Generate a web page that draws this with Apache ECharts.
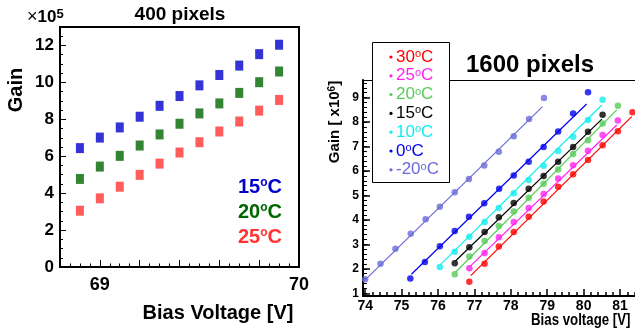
<!DOCTYPE html>
<html><head><meta charset="utf-8">
<script src="https://cdn.jsdelivr.net/npm/echarts@6/dist/echarts.min.js"></script>
<style>html,body{margin:0;padding:0;background:#fff}#c{width:635px;height:331px}</style>
</head><body><div id="c"></div>
<script>
// ---------- Left chart: 400 pixels ----------
const leftVoltage = [68.9, 69.0, 69.1, 69.2, 69.3, 69.4, 69.5, 69.6, 69.7, 69.8, 69.9];
const leftGain15 = [6.44, 7.01, 7.56, 8.14, 8.73, 9.26, 9.84, 10.40, 10.91, 11.53, 12.04];
const leftGain20 = [4.77, 5.44, 6.02, 6.58, 7.18, 7.76, 8.32, 8.86, 9.43, 10.01, 10.59];
const leftGain25 = [3.05, 3.72, 4.35, 4.99, 5.60, 6.20, 6.76, 7.34, 7.88, 8.47, 9.05];
const leftTemps = ['15', '20', '25'];
const leftXTickLabels = [69, 70];
const leftYTickLabels = [0, 2, 4, 6, 8, 10, 12];

// ---------- Right chart: 1600 pixels ----------
const rightTemps = ['30', '25', '20', '15', '10', '0', '-20'];
const v30 = [76.86, 77.28, 77.67, 78.08, 78.49, 78.9, 79.3, 79.71, 80.12, 80.52, 80.94, 81.34];
const g30 = [1.47, 2.21, 2.91, 3.51, 4.13, 4.75, 5.36, 5.87, 6.45, 7.05, 7.63, 8.40];
const v25 = [76.86, 77.28, 77.67, 78.08, 78.49, 78.9, 79.3, 79.71, 80.12, 80.52, 80.94];
const g25 = [2.02, 2.65, 3.29, 3.92, 4.49, 5.06, 5.69, 6.24, 6.83, 7.47, 8.06];
const v20 = [76.46, 76.86, 77.28, 77.67, 78.08, 78.49, 78.9, 79.3, 79.71, 80.12, 80.52, 80.94];
const g20 = [1.78, 2.50, 3.14, 3.75, 4.34, 4.91, 5.48, 6.06, 6.70, 7.26, 7.94, 8.67];
const v15 = [76.46, 76.86, 77.28, 77.67, 78.08, 78.49, 78.9, 79.3, 79.71, 80.12, 80.52];
const g15 = [2.23, 2.88, 3.51, 4.11, 4.69, 5.27, 5.80, 6.38, 6.98, 7.60, 8.30];
const v10 = [76.05, 76.46, 76.86, 77.28, 77.67, 78.08, 78.49, 78.9, 79.3, 79.71, 80.12, 80.52];
const g10 = [2.08, 2.70, 3.31, 3.92, 4.49, 5.09, 5.63, 6.21, 6.82, 7.40, 8.08, 8.91];
const v0 = [75.24, 75.64, 76.05, 76.46, 76.85, 77.27, 77.68, 78.08, 78.49, 78.9, 79.3, 79.71, 80.12];
const g0 = [1.61, 2.28, 2.92, 3.55, 4.13, 4.68, 5.27, 5.82, 6.38, 6.98, 7.61, 8.35, 9.22];
const vm20 = [74.0, 74.42, 74.83, 75.25, 75.66, 76.05, 76.46, 76.85, 77.27, 77.67, 78.08, 78.5, 78.91];
const gm20 = [1.57, 2.21, 2.82, 3.43, 4.03, 4.54, 5.13, 5.67, 6.22, 6.79, 7.42, 8.13, 8.98];
// fitted straight lines: [startV, startG, endV, endG]
const fit30 = [76.90, 1.72, 81.32, 8.22];
const fit25 = [76.88, 2.10, 80.91, 7.88];
const fit20 = [76.48, 1.86, 80.91, 8.50];
const fit15 = [76.48, 2.32, 80.50, 8.12];
const fit10 = [76.06, 2.16, 80.50, 8.70];
const fit0 = [75.27, 1.78, 80.08, 8.74];
const fitm20 = [73.95, 1.48, 78.87, 8.63];
const rightXTickLabels = [74, 75, 76, 77, 78, 79, 80, 81];
const rightYTickLabels = [1, 2, 3, 4, 5, 6, 7, 8, 9];

// ---------- styling ----------
const FONT = 'Liberation Sans, Arial, Helvetica, sans-serif';
const leftColors = ['#0000cc', '#006600', '#ff3333'];
const rightColors = ['#ff0000', '#ff22ee', '#55cc55', '#000000', '#11eeee', '#0000ee', '#6a6ad8'];
const rightV = [v30, v25, v20, v15, v10, v0, vm20];
const rightG = [g30, g25, g20, g15, g10, g0, gm20];
const rightFit = [fit30, fit25, fit20, fit15, fit10, fit0, fitm20];

function steps(a, b, s) { const out = []; for (let v = a; v <= b + 1e-9; v += s) out.push(Math.round(v * 1000) / 1000); return out; }
function zip(xs, ys) { return xs.map((x, i) => [x, ys[i]]); }
function bare(o) {
  return Object.assign({ type: 'value', splitLine: { show: false }, axisLine: { show: false },
    axisTick: { show: false }, axisLabel: { show: false } }, o);
}

const LX = [68.8, 70.0], LY = [0, 13];
const RX = [73.94, 81.41], RY = [0.89, 9.72];

// xAxis: 0 left main, 1 left minor, 2 right main, 3 right minor, 4 right top frame
const xAxis = [
  bare({ gridIndex: 0, position: 'bottom', min: LX[0], max: LX[1],
    axisLine: { show: true, lineStyle: { color: '#000', width: 2 } },
    axisTick: { show: true, inside: true, length: 7, customValues: steps(68.8, 70, 0.2), lineStyle: { color: '#000', width: 1 } },
    axisLabel: { show: true, customValues: leftXTickLabels, color: '#000', fontFamily: FONT, fontWeight: 'bold', fontSize: 18, margin: 9 } }),
  bare({ gridIndex: 0, position: 'bottom', min: LX[0], max: LX[1],
    axisTick: { show: true, inside: true, length: 3.5, customValues: steps(68.8, 70, 0.05), lineStyle: { color: '#000', width: 1 } } }),
  bare({ gridIndex: 1, position: 'bottom', min: RX[0], max: RX[1],
    axisLine: { show: true, lineStyle: { color: '#000', width: 2 } },
    axisTick: { show: true, inside: true, length: 7, customValues: rightXTickLabels, lineStyle: { color: '#000', width: 1.5 } },
    axisLabel: { show: true, customValues: rightXTickLabels, color: '#000', fontFamily: FONT, fontWeight: 'bold', fontSize: 14, margin: 3 } }),
  bare({ gridIndex: 1, position: 'bottom', min: RX[0], max: RX[1],
    axisTick: { show: true, inside: true, length: 4, customValues: steps(74, 81.4, 0.2), lineStyle: { color: '#000', width: 1.5 } } }),
  bare({ gridIndex: 1, position: 'top', min: RX[0], max: RX[1],
    axisLine: { show: true, lineStyle: { color: '#000', width: 1 } } })
];
// yAxis: 0 left main, 1 left minor, 2 right main, 3 right minor
const yAxis = [
  bare({ gridIndex: 0, position: 'left', min: LY[0], max: LY[1],
    axisLine: { show: true, lineStyle: { color: '#000', width: 2 } },
    axisTick: { show: true, inside: true, length: 6, customValues: leftYTickLabels, lineStyle: { color: '#000', width: 1 } },
    axisLabel: { show: true, customValues: leftYTickLabels, color: '#000', fontFamily: FONT, fontWeight: 'bold', fontSize: 17, margin: 6 } }),
  bare({ gridIndex: 0, position: 'left', min: LY[0], max: LY[1],
    axisTick: { show: true, inside: true, length: 3, customValues: steps(0, 13, 0.5), lineStyle: { color: '#000', width: 1 } } }),
  bare({ gridIndex: 1, position: 'left', min: RY[0], max: RY[1],
    axisLine: { show: true, lineStyle: { color: '#000', width: 2 } },
    axisTick: { show: true, inside: true, length: 7, customValues: rightYTickLabels, lineStyle: { color: '#000', width: 1.5 } },
    axisLabel: { show: true, customValues: rightYTickLabels, color: '#000', fontFamily: FONT, fontWeight: 'bold', fontSize: 12, margin: 4 } }),
  bare({ gridIndex: 1, position: 'left', min: RY[0], max: RY[1],
    axisTick: { show: true, inside: true, length: 4, customValues: steps(1, 9.6, 0.2), lineStyle: { color: '#000', width: 1 } } })
];

const series = [];
[leftGain15, leftGain20, leftGain25].forEach((g, i) => {
  series.push({ type: 'scatter', xAxisIndex: 0, yAxisIndex: 0, data: zip(leftVoltage, g),
    symbol: 'rect', symbolSize: [8, 10], itemStyle: { color: leftColors[i] }, z: 3, silent: true });
});
rightTemps.forEach((t, i) => {
  const f = rightFit[i];
  series.push({ type: 'line', xAxisIndex: 2, yAxisIndex: 2, data: [[f[0], f[1]], [f[2], f[3]]],
    showSymbol: false, lineStyle: { color: rightColors[i], width: 1.2 }, z: 2, silent: true });
  series.push({ type: 'scatter', xAxisIndex: 2, yAxisIndex: 2, data: zip(rightV[i], rightG[i]),
    symbol: 'circle', symbolSize: 6.5, itemStyle: { color: rightColors[i] }, z: 3, silent: true });
});

const graphic = [];
function txt(x, y, text, style, extra) {
  graphic.push(Object.assign({ type: 'text', x: x, y: y, z: 50,
    style: Object.assign({ text: text, fontFamily: FONT, fill: '#000', textAlign: 'center', textVerticalAlign: 'middle' }, style) }, extra || {}));
}
// left texts
txt(180, 15, '400 pixels', { fontSize: 19, fontWeight: 'bold' });
txt(27, 17, '{a|×}{b|10}{s|5}', { textAlign: 'left', rich: {
  a: { fontFamily: FONT, fontSize: 18, fill: '#000' },
  b: { fontFamily: FONT, fontSize: 17, fontWeight: 'bold', fill: '#000' },
  s: { fontFamily: FONT, fontSize: 13, fontWeight: 'bold', fill: '#000', verticalAlign: 'top', lineHeight: 13 } } });
txt(16, 90, 'Gain', { fontSize: 20, fontWeight: 'bold' }, { rotation: Math.PI / 2 });
txt(218, 313, 'Bias Voltage [V]', { fontSize: 20, fontWeight: 'bold' });
leftTemps.forEach((t, i) => {
  const c = leftColors[i];
  txt(282, 187 + i * 25, '{a|' + t + '}{s|o}{a|C}', { textAlign: 'right', rich: {
    a: { fontFamily: FONT, fontSize: 20, fontWeight: 'bold', fill: c },
    s: { fontFamily: FONT, fontSize: 12, fontWeight: 'bold', fill: c, verticalAlign: 'top', lineHeight: 12 } } });
});
// right texts
txt(530, 65, '1600 pixels', { fontSize: 24, fontWeight: 'bold' });
txt(335, 122, '{a|Gain [ x10}{s|6}{a|]}', { rich: {
  a: { fontFamily: FONT, fontSize: 15, fontWeight: 'bold', fill: '#000' },
  s: { fontFamily: FONT, fontSize: 10, fontWeight: 'bold', fill: '#000', verticalAlign: 'top', lineHeight: 10 } } },
  { rotation: Math.PI / 2 });
txt(531, 320, 'Bias voltage [V]', { fontSize: 17, fontWeight: 'bold', textAlign: 'left' }, { scaleX: 0.78 });
// right legend box
graphic.push({ type: 'rect', z: 40, shape: { x: 372.5, y: 42.5, width: 77, height: 140 },
  style: { fill: '#fff', stroke: '#000', lineWidth: 1 } });
rightTemps.forEach((t, i) => {
  const c = rightColors[i];
  const y = 57 + i * 18.8;
  graphic.push({ type: 'circle', z: 45, shape: { cx: 391, cy: y, r: 1.6 }, style: { fill: c } });
  txt(396, y, '{a|' + t + '}{s|o}{a|C}', { textAlign: 'left', rich: {
    a: { fontFamily: FONT, fontSize: 17, fill: c },
    s: { fontFamily: FONT, fontSize: 11, fill: c, verticalAlign: 'top', lineHeight: 11 } } });
});

const chart = echarts.init(document.getElementById('c'), null, { renderer: 'canvas' });
chart.setOption({
  animation: false,
  backgroundColor: '#fff',
  grid: [
    { left: 60, top: 27, width: 239, height: 240, show: true, borderColor: '#000', borderWidth: 2, backgroundColor: 'transparent' },
    { left: 363, top: 80, width: 272, height: 216 }
  ],
  xAxis: xAxis,
  yAxis: yAxis,
  series: series,
  graphic: graphic
});
</script>
</body></html>
